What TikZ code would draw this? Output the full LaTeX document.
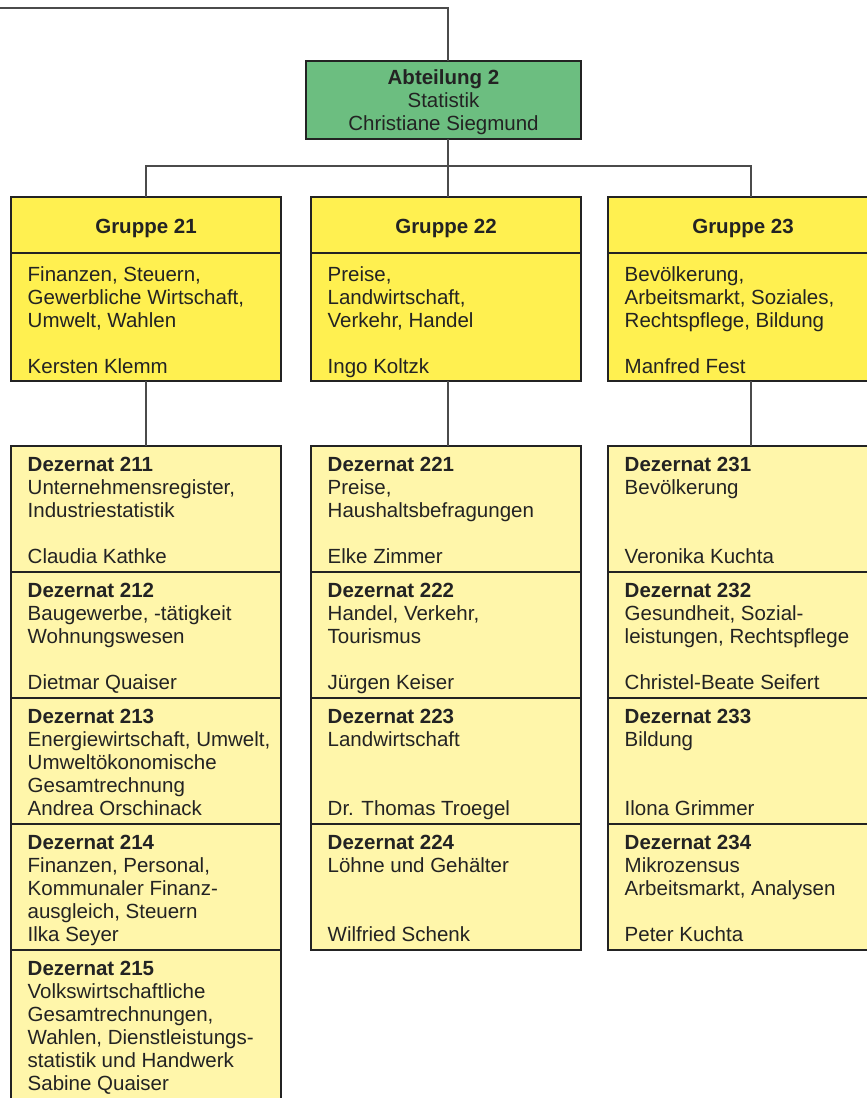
\documentclass[tikz,border=0pt]{standalone}
\usepackage{fontspec}
\setmainfont{Liberation Sans}
\definecolor{abtgreen}{RGB}{108,190,128}
\definecolor{grpyellow}{RGB}{255,240,80}
\definecolor{dezyellow}{RGB}{255,246,170}
\definecolor{inkc}{RGB}{35,35,35}
\definecolor{linec}{RGB}{75,75,75}

\tikzset{
  orgbox/.style={rectangle, draw=inkc, line width=1.6pt, inner sep=0pt, outer sep=0pt,
    anchor=north west, minimum width=270pt},
  abtbox/.style={orgbox, fill=abtgreen, minimum width=275pt, minimum height=78pt},
  grpbox/.style={orgbox, fill=grpyellow, minimum height=184pt},
  dezbox/.style={orgbox, fill=dezyellow, minimum height=126pt},
  orgtext/.style={font=\fontsize{20.5}{23}\selectfont, text=inkc, inner sep=0pt,
    execute at begin node=\strut},
  lefttext/.style={orgtext, align=left, anchor=north west},
  midtext/.style={orgtext, align=center, anchor=north},
  conn/.style={draw=linec, line width=1.2pt},
}

% one Dezernat box with its text: name, left x, top y, height, text
\newcommand{\placeDez}[5]{%
  \node[dezbox, minimum height=#4pt] (#1) at (#2,#3) {};
  \node[lefttext] (#1t) at ([xshift=16.5pt,yshift=-11.4pt]#1.north west) {#5};
}

% one Gruppe box: name, left x, header, body
\newcommand{\placeGrp}[4]{%
  \node[grpbox] (#1) at (#2,197) {};
  \draw[draw=inkc, line width=1.6pt] ([yshift=-56pt]#1.north west) -- ([yshift=-56pt]#1.north east);
  \node[midtext, font=\fontsize{20.5}{23}\selectfont\bfseries] (#1h) at ([yshift=-20.2pt]#1.north) {#3};
  \node[lefttext] (#1t) at ([xshift=16.5pt,yshift=-69.8pt]#1.north west) {#4};
}

\begin{document}
\begin{tikzpicture}[x=1pt, y=-1pt]
\useasboundingbox (0,0) rectangle (867,1098);
\clip (0,0) rectangle (867,1098);
\fill[white] (0,0) rectangle (867,1098);

% department head
\node[abtbox] (abt) at (306,61) {};
\node[midtext] (abtt) at ([yshift=-8.6pt]abt.north)
  {\textbf{Abteilung 2}\\Statistik\\Christiane Siegmund};

% groups
\placeGrp{g21}{11}{Gruppe 21}{Finanzen, Steuern,\\Gewerbliche Wirtschaft,\\Umwelt, Wahlen\\\strut\\Kersten Klemm}
\placeGrp{g22}{311}{Gruppe 22}{Preise,\\Landwirtschaft,\\Verkehr, Handel\\\strut\\Ingo Koltzk}
\placeGrp{g23}{608}{Gruppe 23}{Bevölkerung,\\Arbeitsmarkt, Soziales,\\Rechtspflege, Bildung\\\strut\\Manfred Fest}

% Dezernate of group 21
\placeDez{d211}{11}{446}{126}{\textbf{Dezernat 211}\\Unternehmensregister,\\Industriestatistik\\\strut\\Claudia Kathke}
\placeDez{d212}{11}{572}{126}{\textbf{Dezernat 212}\\Baugewerbe, -tätigkeit\\Wohnungswesen\\\strut\\Dietmar Quaiser}
\placeDez{d213}{11}{698}{126}{\textbf{Dezernat 213}\\Energiewirtschaft, Umwelt,\\Umweltökonomische\\Gesamtrechnung\\Andrea Orschinack}
\placeDez{d214}{11}{824}{126}{\textbf{Dezernat 214}\\Finanzen, Personal,\\Kommunaler Finanz-\\ausgleich, Steuern\\Ilka Seyer}
\placeDez{d215}{11}{950}{170}{\textbf{Dezernat 215}\\Volkswirtschaftliche\\Gesamtrechnungen,\\Wahlen, Dienstleistungs-\\statistik und Handwerk\\Sabine Quaiser}

% Dezernate of group 22
\placeDez{d221}{311}{446}{126}{\textbf{Dezernat 221}\\Preise,\\Haushaltsbefragungen\\\strut\\Elke Zimmer}
\placeDez{d222}{311}{572}{126}{\textbf{Dezernat 222}\\Handel, Verkehr,\\Tourismus\\\strut\\Jürgen Keiser}
\placeDez{d223}{311}{698}{126}{\textbf{Dezernat 223}\\Landwirtschaft\\\strut\\\strut\\Dr. Thomas Troegel}
\placeDez{d224}{311}{824}{126}{\textbf{Dezernat 224}\\Löhne und Gehälter\\\strut\\\strut\\Wilfried Schenk}

% Dezernate of group 23
\placeDez{d231}{608}{446}{126}{\textbf{Dezernat 231}\\Bevölkerung\\\strut\\\strut\\Veronika Kuchta}
\placeDez{d232}{608}{572}{126}{\textbf{Dezernat 232}\\Gesundheit, Sozial-\\leistungen, Rechtspflege\\\strut\\Christel-Beate Seifert}
\placeDez{d233}{608}{698}{126}{\textbf{Dezernat 233}\\Bildung\\\strut\\\strut\\Ilona Grimmer}
\placeDez{d234}{608}{824}{126}{\textbf{Dezernat 234}\\Mikrozensus\\Arbeitsmarkt, Analysen\\\strut\\Peter Kuchta}

% connectors
\coordinate (topleft) at (0,8);
\coordinate (trunk) at (448,166);
\coordinate (c23) at (751,166);
\draw[conn] (topleft) -| (abt.north -| trunk);
\draw[conn] (abt.south -| trunk) -- (g22.north -| trunk);
\draw[conn] (g21.north) |- (c23) -- (c23 |- g23.north);
\draw[conn] (g21.south) -- (d211.north);
\draw[conn] (g22.south -| trunk) -- (d221.north -| trunk);
\draw[conn] (g23.south -| c23) -- (d231.north -| c23);
\end{tikzpicture}
\end{document}
